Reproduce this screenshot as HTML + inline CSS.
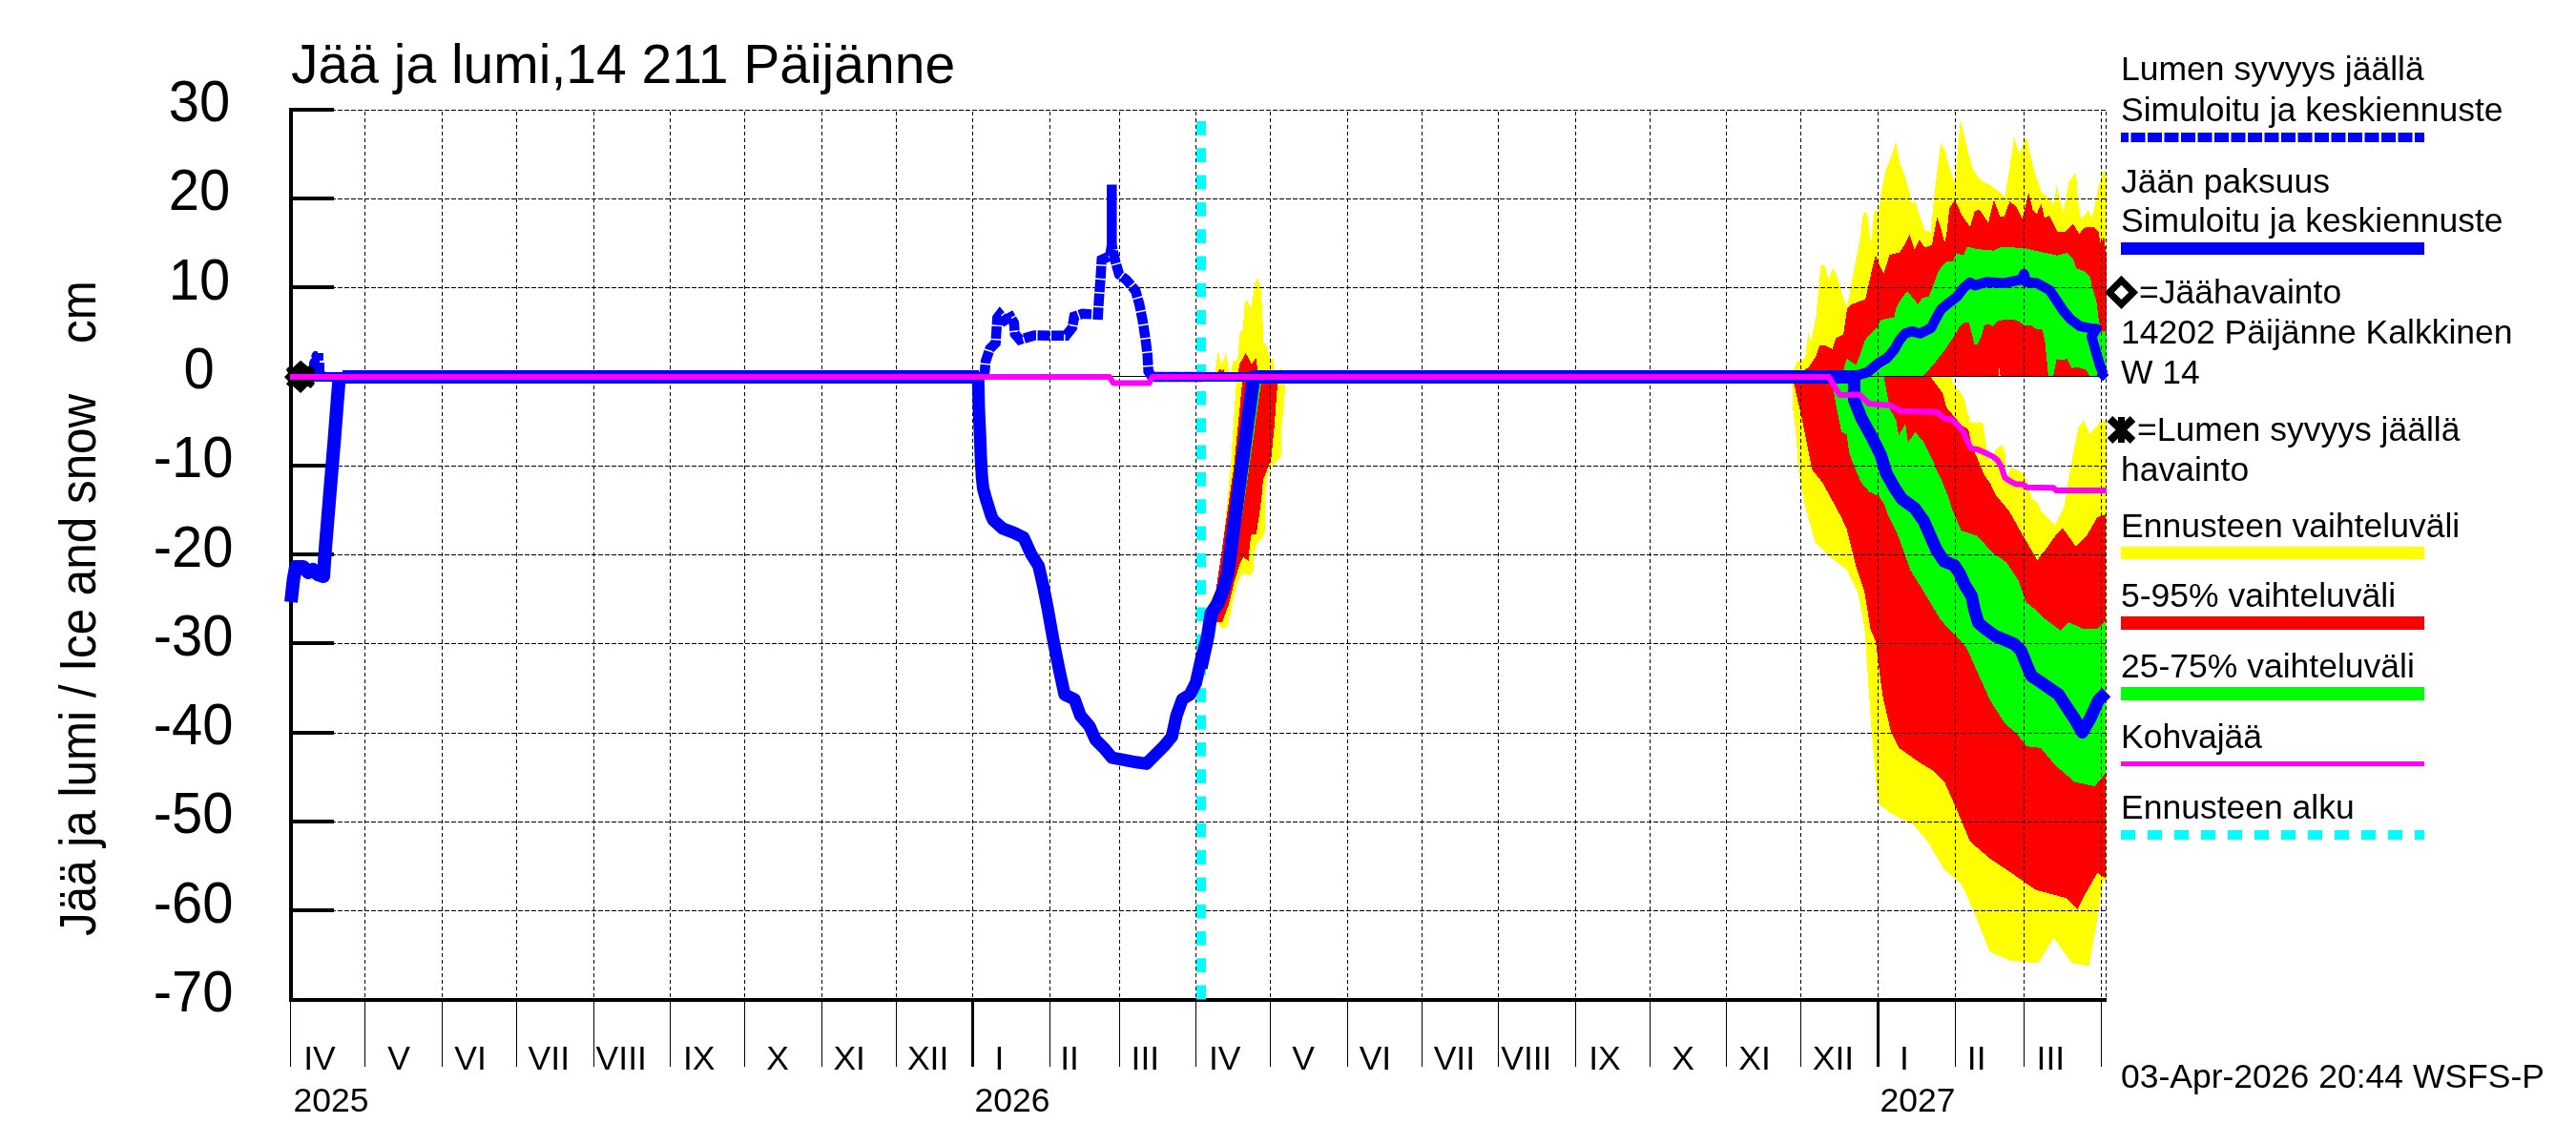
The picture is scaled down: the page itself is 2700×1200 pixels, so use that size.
<!DOCTYPE html>
<html><head><meta charset="utf-8"><style>html,body{margin:0;padding:0;background:#fff;}svg{display:block;}body{will-change:transform;}</style></head>
<body><svg width="2700" height="1200" viewBox="0 0 2700 1200">
<rect width="2700" height="1200" fill="#fff"/>
<g shape-rendering="crispEdges">
<polygon points="1274.1,395.0 1274.1,390.0 1275.2,377.4 1276.8,368.5 1278.3,374.3 1279.9,382.7 1282.5,377.4 1284.6,369.6 1286.7,379.5 1287.8,390.0 1290.4,390.0 1292.0,378.5 1297.2,378.0 1299.3,351.2 1300.3,347.1 1303.0,347.1 1303.5,334.5 1304.5,320.9 1306.1,313.0 1308.7,318.8 1310.8,323.0 1312.4,316.7 1314.5,304.1 1315.5,295.7 1318.7,292.0 1320.8,299.9 1321.8,304.1 1322.9,324.0 1323.9,347.1 1324.4,362.8 1326.0,358.1 1327.6,362.8 1329.7,373.3 1332.3,375.9 1334.9,375.9 1336.0,387.9 1340.7,387.9 1342.8,385.8 1343.8,387.9 1344.0,395.0" fill="#ffff00"/>
<polygon points="1295.5,395.0 1347.2,395.0 1347.2,400.0 1346.3,418.0 1343.4,447.0 1342.4,481.0 1337.0,483.0 1335.5,488.0 1331.3,488.4 1328.1,501.0 1326.0,521.9 1326.0,556.5 1322.9,563.9 1316.6,571.2 1314.0,584.8 1313.5,598.0 1310.0,603.4 1302.4,600.6 1296.7,612.1 1290.9,636.1 1288.0,649.5 1286.1,658.2 1280.3,658.2 1275.5,653.4 1268.0,645.0 1265.0,638.0 1267.8,630.3 1273.6,619.8 1276.0,613.0 1279.4,594.8 1290.0,488.5 1295.8,400.2" fill="#ffff00"/>
<polygon points="1275.7,395.0 1276.8,387.9 1279.0,387.0 1281.0,389.0 1282.5,386.9 1284.1,395.0" fill="#ff0000"/>
<polygon points="1297.2,395.0 1299.3,381.1 1301.9,376.9 1305.6,370.1 1308.2,374.3 1311.9,382.2 1315.5,375.9 1317.1,376.4 1318.2,395.0" fill="#ff0000"/>
<polygon points="1302.0,395.0 1339.0,395.0 1339.0,402.0 1335.7,447.0 1332.3,481.0 1323.9,503.0 1322.4,519.8 1320.3,536.6 1317.7,553.4 1317.1,559.7 1311.4,560.7 1309.8,571.2 1308.7,588.0 1303.0,583.8 1299.5,591.0 1293.8,609.2 1288.0,633.2 1281.3,651.5 1275.5,651.5 1268.8,632.3 1273.6,625.5 1293.4,488.5 1302.1,400.2" fill="#ff0000"/>
<polygon points="1310.0,400.0 1322.0,400.0 1310.8,480.0 1301.0,548.0 1296.0,548.0" fill="#00ff00"/>
<polygon points="1878.0,395.0 1879.4,387.7 1884.2,379.0 1891.9,375.2 1895.7,347.4 1897.6,360.0 1903.4,333.0 1905.8,306.5 1908.5,277.7 1912.4,277.7 1916.3,293.4 1921.6,280.3 1926.8,293.4 1930.7,309.1 1936.0,322.2 1941.2,293.4 1946.5,267.2 1950.4,246.2 1953.0,222.7 1956.9,222.7 1960.9,256.7 1964.8,220.0 1968.7,222.7 1972.7,196.5 1976.6,178.1 1983.1,162.4 1987.1,148.0 1991.0,170.3 1996.2,183.4 2001.5,201.7 2004.1,214.8 2006.7,209.6 2012.0,225.3 2017.2,241.0 2023.7,243.6 2027.7,201.7 2034.2,149.3 2039.5,159.8 2040.0,164.8 2049.1,193.0 2054.9,124.1 2061.6,154.8 2068.2,178.1 2074.9,188.0 2089.8,196.3 2101.4,206.3 2111.4,144.0 2116.4,161.5 2123.8,143.2 2131.3,176.4 2139.6,201.3 2146.2,206.3 2152.9,214.6 2155.4,194.7 2162.8,222.9 2168.7,189.7 2176.1,181.4 2177.8,209.6 2181.1,229.5 2189.4,220.4 2192.7,229.5 2199.4,196.3 2205.2,178.1 2208.0,181.4 2208.0,395.0" fill="#ffff00"/>
<polygon points="1878.0,395.0 2044.6,395.0 2050.2,408.0 2054.4,409.3 2059.2,420.0 2062.1,432.5 2065.9,443.0 2078.4,443.0 2082.3,470.9 2085.1,481.5 2088.0,483.4 2091.9,470.9 2098.6,466.1 2101.5,473.8 2103.4,499.7 2108.2,490.1 2114.9,493.0 2120.7,496.8 2124.5,504.5 2129.3,521.8 2136.1,527.6 2139.6,536.6 2153.5,550.5 2163.9,530.0 2167.8,504.5 2174.5,468.0 2178.3,448.8 2184.1,440.2 2189.9,454.6 2196.6,447.9 2202.3,441.1 2208.0,441.1 2208.0,923.0 2204.3,923.4 2198.4,962.0 2189.5,1012.4 2171.7,1009.5 2152.4,982.8 2136.1,1009.5 2106.4,1006.5 2085.6,997.6 2067.8,953.1 2055.9,926.4 2038.1,911.5 2020.3,881.8 2005.4,864.0 1982.6,853.0 1968.5,842.0 1961.4,761.9 1954.3,658.0 1947.3,620.4 1935.5,596.8 1916.6,582.6 1902.5,568.5 1890.7,525.4 1885.0,491.8 1882.3,452.0 1879.4,429.0 1878.4,402.0" fill="#ffff00"/>
<polygon points="1880.0,395.0 1895.7,385.0 1903.4,373.3 1907.2,361.8 1913.0,361.8 1920.7,365.6 1924.5,354.1 1932.2,350.3 1936.0,323.4 1939.9,319.5 1949.5,315.7 1955.2,313.8 1962.9,279.2 1965.8,267.7 1970.6,279.2 1974.4,286.9 1980.5,267.2 1991.0,264.6 1996.2,256.7 2001.5,246.2 2006.7,262.0 2012.0,251.5 2017.2,259.3 2025.0,256.7 2030.3,227.9 2034.2,238.4 2038.1,254.1 2040.0,247.8 2043.3,217.9 2049.1,209.6 2056.6,226.2 2064.9,237.8 2069.9,221.2 2074.9,219.6 2084.0,233.7 2089.8,209.6 2096.4,227.0 2100.6,227.0 2106.4,211.3 2113.0,216.2 2119.7,229.5 2126.3,202.1 2130.5,219.6 2134.6,224.5 2139.6,213.8 2142.9,228.7 2147.9,226.2 2156.2,242.8 2164.5,242.8 2172.8,234.5 2179.4,245.3 2184.4,238.7 2194.4,237.8 2199.4,242.8 2201.9,256.1 2205.2,247.0 2208.0,271.0 2208.0,395.0" fill="#ff0000"/>
<polygon points="1879.6,395.0 2023.6,395.0 2036.2,412.1 2040.0,426.7 2049.6,438.3 2056.3,445.9 2063.0,449.8 2065.9,464.2 2069.8,473.8 2076.5,490.1 2080.3,498.8 2086.1,506.5 2091.9,518.9 2097.6,525.7 2106.0,536.0 2119.6,560.0 2135.4,587.2 2147.0,572.0 2155.3,560.0 2161.9,553.3 2175.9,573.0 2187.0,561.7 2198.3,542.1 2207.0,539.3 2207.0,920.4 2198.4,914.5 2186.5,935.3 2177.6,953.1 2165.7,941.2 2133.1,932.3 2103.4,911.5 2085.6,899.6 2064.8,881.8 2050.0,846.2 2038.1,819.5 2026.2,807.6 2011.4,798.7 1990.6,783.9 1981.7,766.0 1973.2,728.9 1966.1,672.3 1960.6,659.6 1954.3,620.4 1944.9,592.0 1935.5,554.3 1929.9,542.1 1921.3,526.0 1910.3,505.8 1899.1,491.8 1893.0,460.0 1888.0,436.0 1880.3,402.0" fill="#ff0000"/>
<polygon points="1930.0,395.0 1936.0,375.2 1939.9,379.0 1945.7,382.4 1951.4,366.5 1954.8,356.3 1965.0,345.0 1968.4,342.7 1970.7,335.9 1974.1,334.7 1985.4,332.5 1987.7,322.2 1991.1,315.4 1999.0,305.2 2010.4,318.8 2014.9,312.0 2021.8,310.9 2027.4,296.1 2030.8,285.9 2035.4,279.1 2040.0,274.3 2047.5,273.5 2050.0,265.2 2058.3,267.7 2061.6,258.6 2073.2,261.1 2089.8,262.7 2098.1,258.6 2109.7,259.4 2123.0,260.2 2133.0,262.7 2156.2,267.7 2166.2,265.2 2172.8,271.0 2176.1,281.0 2186.1,285.1 2191.1,291.0 2192.3,299.1 2197.2,315.0 2199.6,333.4 2202.0,348.0 2204.5,346.8 2208.0,348.0 2208.0,395.0" fill="#00ff00"/>
<polygon points="1918.0,395.0 1974.7,395.0 1978.2,415.0 1981.7,430.3 1987.3,440.0 1990.1,456.8 1997.1,444.3 1999.9,463.8 2007.5,452.7 2016.6,463.8 2026.4,483.4 2029.2,491.8 2036.2,505.8 2041.8,519.7 2046.0,533.7 2055.7,556.0 2072.5,561.7 2088.2,578.9 2102.9,589.3 2115.5,608.2 2123.8,631.3 2134.3,639.6 2142.7,648.0 2159.5,660.6 2167.9,652.2 2182.5,658.5 2199.3,658.5 2207.0,650.1 2207.0,810.6 2195.4,824.0 2174.6,819.5 2153.9,801.7 2139.0,783.9 2123.8,782.2 2115.5,771.0 2100.6,757.0 2085.6,733.4 2073.7,706.7 2061.8,680.0 2052.6,669.0 2040.0,656.4 2033.3,648.4 2016.6,620.4 2002.6,598.0 1988.6,559.0 1978.9,540.0 1974.7,528.1 1969.1,519.7 1959.3,515.5 1951.0,505.8 1944.0,490.4 1938.4,475.0 1935.6,455.5 1930.0,452.7 1924.5,425.2 1920.7,402.0" fill="#00ff00"/>
<polygon points="2015.0,395.0 2026.3,382.4 2038.8,366.5 2045.6,356.3 2050.1,349.5 2053.5,342.7 2059.2,338.1 2063.8,338.1 2069.4,360.8 2072.8,360.8 2077.4,350.6 2079.8,340.7 2084.7,339.5 2088.3,341.9 2094.5,335.8 2106.7,334.6 2114.0,335.8 2121.4,340.7 2128.7,340.7 2133.6,344.4 2140.9,345.6 2143.4,357.8 2145.8,382.3 2147.0,395.0" fill="#ff0000"/>
<polygon points="2151.9,395.0 2155.6,376.2 2161.7,377.4 2166.6,376.2 2171.5,386.0 2176.4,384.7 2186.2,387.2 2191.0,395.0" fill="#ff0000"/>
<polygon points="2094.5,395.0 2095.5,386.0 2096.9,395.0" fill="#ffff00"/>
</g>
<g stroke="#000" stroke-width="1" shape-rendering="crispEdges">
<line x1="382.5" y1="117" x2="382.5" y2="1046" stroke-dasharray="4 3"/>
<line x1="463.5" y1="117" x2="463.5" y2="1046" stroke-dasharray="4 3"/>
<line x1="541.5" y1="117" x2="541.5" y2="1046" stroke-dasharray="4 3"/>
<line x1="622.5" y1="117" x2="622.5" y2="1046" stroke-dasharray="4 3"/>
<line x1="702.5" y1="117" x2="702.5" y2="1046" stroke-dasharray="4 3"/>
<line x1="780.5" y1="117" x2="780.5" y2="1046" stroke-dasharray="4 3"/>
<line x1="861.5" y1="117" x2="861.5" y2="1046" stroke-dasharray="4 3"/>
<line x1="939.5" y1="117" x2="939.5" y2="1046" stroke-dasharray="4 3"/>
<line x1="1019.5" y1="117" x2="1019.5" y2="1046" stroke-dasharray="4 3"/>
<line x1="1100.5" y1="117" x2="1100.5" y2="1046" stroke-dasharray="4 3"/>
<line x1="1173.5" y1="117" x2="1173.5" y2="1046" stroke-dasharray="4 3"/>
<line x1="1253.5" y1="117" x2="1253.5" y2="1046" stroke-dasharray="4 3"/>
<line x1="1331.5" y1="117" x2="1331.5" y2="1046" stroke-dasharray="4 3"/>
<line x1="1412.5" y1="117" x2="1412.5" y2="1046" stroke-dasharray="4 3"/>
<line x1="1490.5" y1="117" x2="1490.5" y2="1046" stroke-dasharray="4 3"/>
<line x1="1570.5" y1="117" x2="1570.5" y2="1046" stroke-dasharray="4 3"/>
<line x1="1651.5" y1="117" x2="1651.5" y2="1046" stroke-dasharray="4 3"/>
<line x1="1729.5" y1="117" x2="1729.5" y2="1046" stroke-dasharray="4 3"/>
<line x1="1809.5" y1="117" x2="1809.5" y2="1046" stroke-dasharray="4 3"/>
<line x1="1887.5" y1="117" x2="1887.5" y2="1046" stroke-dasharray="4 3"/>
<line x1="1968.5" y1="117" x2="1968.5" y2="1046" stroke-dasharray="4 3"/>
<line x1="2049.5" y1="117" x2="2049.5" y2="1046" stroke-dasharray="4 3"/>
<line x1="2121.5" y1="117" x2="2121.5" y2="1046" stroke-dasharray="4 3"/>
<line x1="2202.5" y1="117" x2="2202.5" y2="1046" stroke-dasharray="4 3"/>
<line x1="2207.5" y1="117" x2="2207.5" y2="1046" stroke-dasharray="4 3"/>
<line x1="347" y1="115.5" x2="2208" y2="115.5" stroke-dasharray="5 2"/>
<line x1="347" y1="208.5" x2="2208" y2="208.5" stroke-dasharray="5 2"/>
<line x1="347" y1="301.5" x2="2208" y2="301.5" stroke-dasharray="5 2"/>
<line x1="347" y1="394.5" x2="2208" y2="394.5" stroke-dasharray="5 2"/>
<line x1="347" y1="488.5" x2="2208" y2="488.5" stroke-dasharray="5 2"/>
<line x1="347" y1="581.5" x2="2208" y2="581.5" stroke-dasharray="5 2"/>
<line x1="347" y1="674.5" x2="2208" y2="674.5" stroke-dasharray="5 2"/>
<line x1="347" y1="768.5" x2="2208" y2="768.5" stroke-dasharray="5 2"/>
<line x1="347" y1="861.5" x2="2208" y2="861.5" stroke-dasharray="5 2"/>
<line x1="347" y1="954.5" x2="2208" y2="954.5" stroke-dasharray="5 2"/>
</g>
<rect x="305" y="394" width="1902" height="1" fill="#000"/>
<g fill="#000" shape-rendering="crispEdges">
<rect x="303" y="113" width="4" height="937"/>
<rect x="303" y="1046" width="1905" height="4"/>
<rect x="303" y="113" width="47" height="4"/>
<rect x="303" y="206" width="47" height="4"/>
<rect x="303" y="299" width="47" height="4"/>
<rect x="303" y="392" width="47" height="4"/>
<rect x="303" y="486" width="47" height="4"/>
<rect x="303" y="579" width="47" height="4"/>
<rect x="303" y="672" width="47" height="4"/>
<rect x="303" y="766" width="47" height="4"/>
<rect x="303" y="859" width="47" height="4"/>
<rect x="303" y="952" width="47" height="4"/>
<rect x="304" y="1050" width="1" height="68"/>
<rect x="382" y="1050" width="1" height="68"/>
<rect x="463" y="1050" width="1" height="68"/>
<rect x="541" y="1050" width="1" height="68"/>
<rect x="622" y="1050" width="1" height="68"/>
<rect x="702" y="1050" width="1" height="68"/>
<rect x="780" y="1050" width="1" height="68"/>
<rect x="861" y="1050" width="1" height="68"/>
<rect x="939" y="1050" width="1" height="68"/>
<rect x="1018" y="1050" width="3" height="68"/>
<rect x="1100" y="1050" width="1" height="68"/>
<rect x="1173" y="1050" width="1" height="68"/>
<rect x="1253" y="1050" width="1" height="68"/>
<rect x="1331" y="1050" width="1" height="68"/>
<rect x="1412" y="1050" width="1" height="68"/>
<rect x="1490" y="1050" width="1" height="68"/>
<rect x="1570" y="1050" width="1" height="68"/>
<rect x="1651" y="1050" width="1" height="68"/>
<rect x="1729" y="1050" width="1" height="68"/>
<rect x="1809" y="1050" width="1" height="68"/>
<rect x="1887" y="1050" width="1" height="68"/>
<rect x="1967" y="1050" width="3" height="68"/>
<rect x="2049" y="1050" width="1" height="68"/>
<rect x="2121" y="1050" width="1" height="68"/>
<rect x="2202" y="1050" width="1" height="68"/>
</g>
<line x1="1259" y1="127" x2="1259" y2="1048" stroke="#00ffff" stroke-width="10" stroke-dasharray="14.8 13.5"/>
<polyline points="305.0,631.0 307.5,608.0 310.0,594.0 318.0,594.0 323.0,600.0 328.0,597.0 333.0,602.0 339.0,604.0 341.0,575.0 345.5,520.0 350.5,460.0 355.0,402.0 356.0,396.0" fill="none" stroke="#0000ff" stroke-width="14" stroke-linejoin="round"/>
<rect x="359" y="388" width="667" height="14" fill="#0000ff"/>
<polyline points="1025.3,395.0 1025.3,400.0 1026.0,429.0 1027.4,460.0 1028.0,478.0 1029.2,500.0 1030.5,512.0 1033.5,523.0 1038.8,540.0 1041.0,545.0 1050.9,553.9 1063.4,558.6 1072.9,563.3 1080.7,580.6 1088.6,593.1 1093.3,613.6 1098.0,637.1 1104.1,671.4 1110.4,702.9 1115.9,728.0 1126.2,732.8 1132.4,750.0 1141.9,761.0 1148.2,775.2 1157.6,784.6 1165.5,794.1 1178.0,796.4 1190.6,798.8 1201.6,800.4 1209.5,792.5 1220.5,781.5 1228.3,772.0 1233.1,750.0 1239.3,732.8 1247.2,728.0 1253.5,715.5 1259.8,687.2 1265.9,666.8" fill="none" stroke="#0000ff" stroke-width="13" stroke-linejoin="round"/>
<polyline points="1258.7,700.0 1265.9,666.8 1269.5,642.8 1276.0,633.2 1281.8,618.8 1287.0,600.0 1301.6,488.5 1313.4,400.0 1314.0,395.0 1316.0,395.0" fill="none" stroke="#0000ff" stroke-width="14" stroke-linejoin="round"/>
<rect x="1316" y="388" width="628" height="14" fill="#0000ff"/>
<polyline points="1944.0,395.0 1943.4,400.0 1943.4,419.2 1951.1,438.4 1961.7,457.6 1971.3,476.8 1977.1,496.0 1985.7,511.4 1993.4,522.9 2006.8,532.5 2016.4,546.0 2022.2,559.4 2029.9,576.7 2037.6,588.2 2048.4,592.6 2054.0,601.0 2059.6,613.5 2066.6,624.7 2069.4,638.7 2073.5,652.7 2081.9,659.7 2091.7,666.7 2101.5,670.8 2111.3,675.0 2118.3,682.0 2123.9,696.0 2129.4,708.6 2137.8,714.2 2150.0,722.6 2157.4,727.7 2165.8,740.3 2174.1,752.8 2182.5,767.5 2190.9,752.8 2199.3,734.0 2207.7,725.6" fill="none" stroke="#0000ff" stroke-width="13" stroke-linejoin="round"/>
<polygon points="324.0,380.0 325.3,376.8 327.1,375.0 326.1,373.4 327.1,370.2 329.2,367.9 332.4,367.9 333.4,370.0 338.9,370.0 338.9,377.8 335.0,378.0 335.0,380.0 340.0,380.2 340.0,388.8 341.0,390.1 352.0,390.1 352.0,400.0 324.0,400.0" fill="#0000ff"/>
<rect x="340" y="390" width="690" height="10" fill="#0000ff"/>
<polyline points="1030.6,395.0 1032.2,389.0 1033.1,378.6 1037.5,365.5 1043.6,359.4 1044.5,345.4 1045.3,333.2 1048.0,329.7 1053.2,335.8 1059.3,332.3 1062.8,338.4 1063.7,349.8 1068.9,355.9 1081.1,352.4 1084.6,351.5 1117.3,351.8 1124.0,343.2 1125.9,331.7 1134.6,328.8 1150.9,329.8 1151.8,314.4 1153.8,287.5 1154.7,272.2 1163.4,268.3 1165.3,256.8 1165.3,218.4 1165.3,193.5 1165.3,256.8 1169.1,274.1 1173.0,287.5 1180.6,293.3 1190.2,304.8 1194.1,318.2 1197.9,337.4 1200.8,356.7 1202.7,372.0 1203.7,389.3 1207.5,395.0 1260.0,395.0" fill="none" stroke="#0000ff" stroke-width="10.5" stroke-dasharray="13 1.5"/>
<rect x="1203" y="390" width="110" height="10" fill="#0000ff"/>
<polyline points="1940.0,395.0 1957.0,390.4 1969.5,380.1 1977.5,375.6 1985.4,366.5 1991.1,356.3 1996.8,349.5 2003.6,347.2 2012.7,349.5 2024.0,343.8 2028.6,334.7 2034.2,324.5 2042.2,317.7 2051.3,310.9 2058.1,301.8 2064.9,296.1 2070.0,299.1 2082.2,295.5 2100.6,296.7 2118.9,293.0 2121.4,287.0 2123.8,295.5 2134.8,296.7 2148.2,304.0 2155.6,315.0 2162.9,326.0 2170.3,334.6 2180.0,341.9 2192.3,344.4 2197.2,344.4 2192.3,352.9 2197.2,370.0 2200.8,382.3 2204.5,392.0" fill="none" stroke="#0000ff" stroke-width="10.5" stroke-linejoin="round"/>
<polygon points="2204,386.5 2210.5,393 2204,399.5 2197.5,393" fill="#0000ff"/>
<polyline points="304.0,395.0 1162.7,395.0 1167.0,401.4 1204.6,401.4 1207.7,395.0 1916.8,395.0 1928.3,414.0 1949.2,413.6 1958.8,423.0 1981.9,425.0 1991.5,430.7 2029.9,431.7 2037.6,438.4 2045.8,439.7 2051.5,445.0 2057.3,451.7 2061.1,460.3 2065.9,470.0 2072.7,470.9 2081.3,474.8 2089.0,478.6 2093.8,482.4 2097.6,489.2 2101.5,500.7 2107.2,504.5 2113.0,507.4 2119.7,507.4 2124.5,510.8 2152.4,511.3 2155.3,514.1 2208.0,514.1" fill="none" stroke="#ff00ff" stroke-width="6" stroke-linejoin="round"/>
<polygon points="298.0,394.9 302.0,390.9 299.9,387.5 302.2,384.6 307.2,384.9 315.1,377.8 322.4,384.1 326.1,383.1 330.0,387.3 329.0,389.9 330.0,391.4 330.0,397.2 328.2,398.8 330.0,401.9 325.8,406.9 322.4,404.8 315.1,411.9 307.2,404.8 303.0,405.1 299.9,402.5 302.2,399.6" fill="#000"/>
<rect x="304" y="392" width="28" height="6" fill="#ff00ff"/>
<text x="305" y="87" font-family="Liberation Sans" font-size="57">Jää ja lumi,14 211 Päijänne</text>
<text transform="translate(209,127.0) scale(0.95,1)" font-family="Liberation Sans" font-size="61" text-anchor="middle">30</text>
<text transform="translate(209,220.3) scale(0.95,1)" font-family="Liberation Sans" font-size="61" text-anchor="middle">20</text>
<text transform="translate(209,313.6) scale(0.95,1)" font-family="Liberation Sans" font-size="61" text-anchor="middle">10</text>
<text transform="translate(208.5,406.9) scale(0.95,1)" font-family="Liberation Sans" font-size="61" text-anchor="middle">0</text>
<text transform="translate(202.5,500.2) scale(0.95,1)" font-family="Liberation Sans" font-size="61" text-anchor="middle">-10</text>
<text transform="translate(202.5,593.5) scale(0.95,1)" font-family="Liberation Sans" font-size="61" text-anchor="middle">-20</text>
<text transform="translate(202.5,686.8) scale(0.95,1)" font-family="Liberation Sans" font-size="61" text-anchor="middle">-30</text>
<text transform="translate(202.5,780.1) scale(0.95,1)" font-family="Liberation Sans" font-size="61" text-anchor="middle">-40</text>
<text transform="translate(202.5,873.4) scale(0.95,1)" font-family="Liberation Sans" font-size="61" text-anchor="middle">-50</text>
<text transform="translate(202.5,966.7) scale(0.95,1)" font-family="Liberation Sans" font-size="61" text-anchor="middle">-60</text>
<text transform="translate(202.5,1060.0) scale(0.95,1)" font-family="Liberation Sans" font-size="61" text-anchor="middle">-70</text>
<text transform="translate(100,981) rotate(-90) scale(0.932,1)" font-family="Liberation Sans" font-size="53">Jää ja lumi / Ice and snow</text>
<text transform="translate(100,360) rotate(-90) scale(0.932,1)" font-family="Liberation Sans" font-size="53">cm</text>
<text x="335" y="1121" font-family="Liberation Sans" font-size="35.5" text-anchor="middle">IV</text>
<text x="418.1" y="1121" font-family="Liberation Sans" font-size="35.5" text-anchor="middle">V</text>
<text x="493" y="1121" font-family="Liberation Sans" font-size="35.5" text-anchor="middle">VI</text>
<text x="575.3" y="1121" font-family="Liberation Sans" font-size="35.5" text-anchor="middle">VII</text>
<text x="651.25" y="1121" font-family="Liberation Sans" font-size="35.5" text-anchor="middle">VIII</text>
<text x="732.75" y="1121" font-family="Liberation Sans" font-size="35.5" text-anchor="middle">IX</text>
<text x="815" y="1121" font-family="Liberation Sans" font-size="35.5" text-anchor="middle">X</text>
<text x="890.15" y="1121" font-family="Liberation Sans" font-size="35.5" text-anchor="middle">XI</text>
<text x="972.65" y="1121" font-family="Liberation Sans" font-size="35.5" text-anchor="middle">XII</text>
<text x="1047.5" y="1121" font-family="Liberation Sans" font-size="35.5" text-anchor="middle">I</text>
<text x="1121.1" y="1121" font-family="Liberation Sans" font-size="35.5" text-anchor="middle">II</text>
<text x="1200.35" y="1121" font-family="Liberation Sans" font-size="35.5" text-anchor="middle">III</text>
<text x="1283.65" y="1121" font-family="Liberation Sans" font-size="35.5" text-anchor="middle">IV</text>
<text x="1366.15" y="1121" font-family="Liberation Sans" font-size="35.5" text-anchor="middle">V</text>
<text x="1441.45" y="1121" font-family="Liberation Sans" font-size="35.5" text-anchor="middle">VI</text>
<text x="1524.35" y="1121" font-family="Liberation Sans" font-size="35.5" text-anchor="middle">VII</text>
<text x="1599.85" y="1121" font-family="Liberation Sans" font-size="35.5" text-anchor="middle">VIII</text>
<text x="1681.95" y="1121" font-family="Liberation Sans" font-size="35.5" text-anchor="middle">IX</text>
<text x="1764.05" y="1121" font-family="Liberation Sans" font-size="35.5" text-anchor="middle">X</text>
<text x="1839" y="1121" font-family="Liberation Sans" font-size="35.5" text-anchor="middle">XI</text>
<text x="1921.5" y="1121" font-family="Liberation Sans" font-size="35.5" text-anchor="middle">XII</text>
<text x="1996" y="1121" font-family="Liberation Sans" font-size="35.5" text-anchor="middle">I</text>
<text x="2071.7" y="1121" font-family="Liberation Sans" font-size="35.5" text-anchor="middle">II</text>
<text x="2149.35" y="1121" font-family="Liberation Sans" font-size="35.5" text-anchor="middle">III</text>
<text x="307.5" y="1165" font-family="Liberation Sans" font-size="35.5">2025</text>
<text x="1021.5" y="1165" font-family="Liberation Sans" font-size="35.5">2026</text>
<text x="1970.5" y="1165" font-family="Liberation Sans" font-size="35.5">2027</text>
<text x="2223" y="84" font-family="Liberation Sans" font-size="35.5">Lumen syvyys jäällä</text>
<text x="2223" y="127" font-family="Liberation Sans" font-size="35.5">Simuloitu ja keskiennuste</text>
<line x1="2223" y1="144" x2="2541" y2="144" stroke="#0000ff" stroke-width="10" stroke-dasharray="15 2.5" stroke-dashoffset="7"/>
<text x="2223" y="201.5" font-family="Liberation Sans" font-size="35.5">Jään paksuus</text>
<text x="2223" y="243" font-family="Liberation Sans" font-size="35.5">Simuloitu ja keskiennuste</text>
<rect x="2223" y="254" width="318" height="13" fill="#0000ff"/>
<polygon points="2223.5,288.8 2241.1,306.4 2223.5,324 2205.9,306.4" fill="#000"/><polygon points="2223.5,298.7 2231.2,306.4 2223.5,314.1 2215.8,306.4" fill="#fff"/>
<text x="2242" y="318" font-family="Liberation Sans" font-size="35.5">=Jäähavainto</text>
<text x="2223" y="360" font-family="Liberation Sans" font-size="35.5">14202 Päijänne Kalkkinen</text>
<text x="2223" y="401.5" font-family="Liberation Sans" font-size="35.5">W 14</text>
<rect x="2220" y="437" width="7" height="27" fill="#000"/><line x1="2211.5" y1="439" x2="2235.5" y2="462" stroke="#000" stroke-width="8"/><line x1="2235.5" y1="439" x2="2211.5" y2="462" stroke="#000" stroke-width="8"/>
<text x="2240" y="462" font-family="Liberation Sans" font-size="35.5">=Lumen syvyys jäällä</text>
<text x="2223" y="504" font-family="Liberation Sans" font-size="35.5">havainto</text>
<text x="2223" y="562.5" font-family="Liberation Sans" font-size="35.5">Ennusteen vaihteluväli</text>
<rect x="2223" y="573" width="318" height="13" fill="#ffff00"/>
<text x="2223" y="636" font-family="Liberation Sans" font-size="35.5">5-95% vaihteluväli</text>
<rect x="2223" y="646" width="318" height="14" fill="#ff0000"/>
<text x="2223" y="710" font-family="Liberation Sans" font-size="35.5">25-75% vaihteluväli</text>
<rect x="2223" y="720" width="318" height="14" fill="#00ff00"/>
<text x="2223" y="784" font-family="Liberation Sans" font-size="35.5">Kohvajää</text>
<rect x="2223" y="798" width="318" height="5" fill="#ff00ff"/>
<text x="2223" y="858" font-family="Liberation Sans" font-size="35.5">Ennusteen alku</text>
<line x1="2223" y1="875" x2="2541" y2="875" stroke="#00ffff" stroke-width="10" stroke-dasharray="15 13"/>
<text x="2223" y="1139.5" font-family="Liberation Sans" font-size="35.5">03-Apr-2026 20:44 WSFS-P</text>
</svg></body></html>
